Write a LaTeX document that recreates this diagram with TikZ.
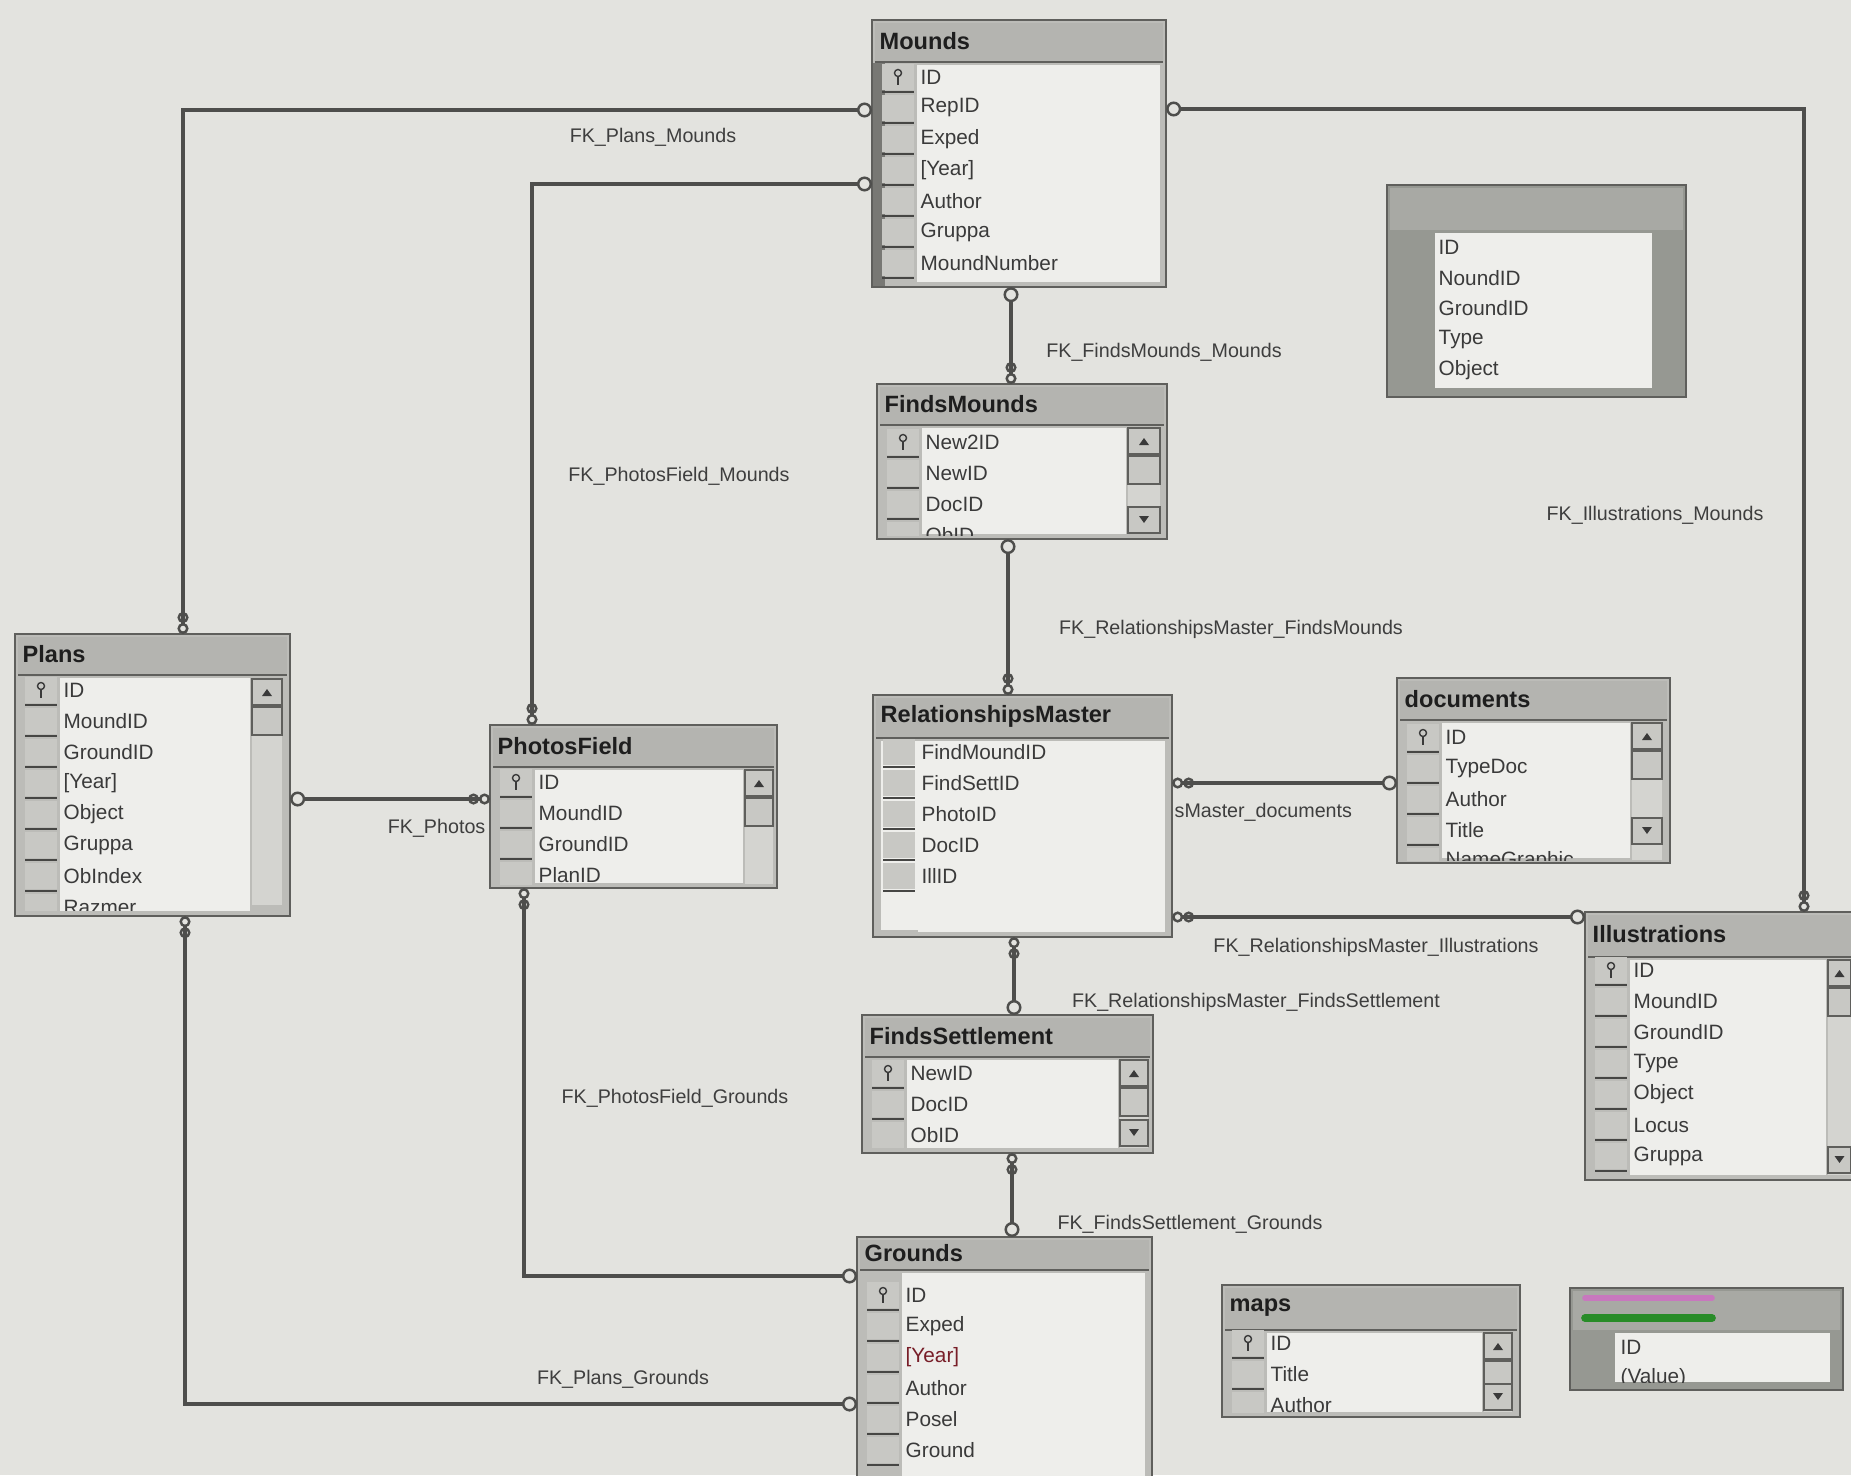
\documentclass[tikz,border=0pt]{standalone}
\usepackage{fontspec}
\setmainfont{Liberation Sans}
\usetikzlibrary{arrows.meta,calc}

\definecolor{bgclr}{RGB}{227,227,223}
\definecolor{frameclr}{RGB}{95,95,92}
\definecolor{bodyclr}{RGB}{188,188,184}
\definecolor{titleclr}{RGB}{180,180,176}
\definecolor{whiteclr}{RGB}{238,238,235}
\definecolor{keycellclr}{RGB}{200,200,196}
\definecolor{keysepclr}{RGB}{70,70,68}
\definecolor{lineclr}{RGB}{78,78,76}
\definecolor{textclr}{RGB}{58,58,58}
\definecolor{titletxt}{RGB}{30,30,30}
\definecolor{labelclr}{RGB}{62,62,62}
\definecolor{scrollclr}{RGB}{212,212,208}
\definecolor{darkstrip}{RGB}{120,120,116}
\definecolor{blurclr}{RGB}{150,152,146}
\definecolor{pinkclr}{RGB}{200,120,190}
\definecolor{greenclr}{RGB}{40,140,40}
\definecolor{darkred}{RGB}{120,30,40}

\tikzset{
  tbl/.style={rectangle, draw=frameclr, line width=0.6pt, fill=bodyclr, inner sep=0pt, outer sep=0pt},
  ttl/.style={inner sep=0pt, font=\bfseries\fontsize{6.7}{8}\selectfont, text=titletxt},
  fld/.style={inner sep=0pt, font=\fontsize{5.9}{7}\selectfont, text=textclr},
  lbl/.style={inner sep=0pt, font=\fontsize{5.6}{7}\selectfont, text=labelclr},
  conn/.style={draw=lineclr, line width=1pt},
  fkpk/.style={conn, {Circle[open,length=1.1mm,width=1.1mm,line width=0.7pt]Circle[open,length=1.1mm,width=1.1mm,line width=0.7pt]}-{Circle[open,length=1.5mm,width=1.5mm,line width=0.7pt]}},
  whitearea/.style={fill=whiteclr},
  titlebar/.style={fill=titleclr},
  keycell/.style={fill=keycellclr},
  keysep/.style={draw=keysepclr, line width=0.5pt},
  scrollbg/.style={fill=scrollclr},
  scrollbtn/.style={draw=frameclr, fill=keycellclr, line width=0.4pt},
  keyic/.style={draw=textclr, line width=0.4pt}
}

% #1 name #2 x0 #3 y0 #4 w #5 h #6 title bottom #7 white right #8 title
\newcommand\erdbox[8]{%
  \node[tbl, minimum width=#4*0.1mm, minimum height=#5*0.1mm, anchor=north west] (#1) at (#2,#3) {};
  \fill[titlebar] (#2+3,#3+3) rectangle (#2+#4-3,#6);
  \draw[frameclr, line width=0.4pt] (#2+3,#6) -- (#2+#4-3,#6);
  \node[ttl, anchor=west] (#1t) at (#2+7,{(#3+#6)/2}) {#8};
  \fill[whitearea] (#2+45,#6+3) rectangle (#7,#3+#5-5);
}

% #1 prefix #2 x0 #3 first row y #4 rows #5 clip bottom #6 white right
\newcommand\erdrows[6]{%
  \begin{scope}
    \clip (#2,#3-15) rectangle (#6,#5);
    \foreach \t [count=\i from 0] in {#4} {
      \fill[keycell] (#2+10,#3+\i*31-13) rectangle (#2+42,#3+\i*31+13);
      \draw[keysep] (#2+10,#3+\i*31+15) -- (#2+42,#3+\i*31+15);
      \node[fld, anchor=west] (#1r\i) at (#2+48,#3+\i*31) {\t};
    }
  \end{scope}
}

% key icon: #1 x0 #2 first row y
\newcommand\erdkey[2]{%
  \draw[keyic] (#1+26,#2-4) circle[radius=0.35mm];
  \draw[keyic] (#1+26,#2) -- (#1+26,#2+8);
}

% scrollbar: #1 xl #2 xr #3 ytop #4 ybottom
\newcommand\erdscroll[4]{%
  \fill[scrollbg] (#1,#3) rectangle (#2,#4);
  \draw[scrollbtn] (#1,#3) rectangle (#2,#3+26);
  \fill[textclr] ({(#1+#2)/2-5},#3+17) -- ({(#1+#2)/2+5},#3+17) -- ({(#1+#2)/2},#3+10) -- cycle;
  \draw[scrollbtn] (#1,#3+28) rectangle (#2,#3+56);
}
% down button: #1 xl #2 xr #3 ybottom
\newcommand\erddown[3]{%
  \draw[scrollbtn] (#1,#3-26) rectangle (#2,#3);
  \fill[textclr] ({(#1+#2)/2-5},#3-17) -- ({(#1+#2)/2+5},#3-17) -- ({(#1+#2)/2},#3-10) -- cycle;
}

\begin{document}
\begin{tikzpicture}[x=0.01cm, y=-0.01cm]
\useasboundingbox (0,0) rectangle (1851,1475);
\fill[bgclr] (0,0) rectangle (1851,1475);

% ---------- tables ----------
% Mounds
\erdbox{mounds}{872}{20}{294}{267}{62}{1160}{Mounds}
\fill[darkstrip] (873,63) rectangle (885,286);
\erdrows{mounds}{872}{77}{ID,RepID,Exped,{[Year]},Author,Gruppa,MoundNumber}{282}{1160}
\erdkey{872}{77}

% unnamed table top right
\node[tbl, fill=blurclr, minimum width=29.9mm, minimum height=21.2mm, anchor=north west] (tblx) at (1387,185) {};
\fill[titleclr!60!blurclr] (1390,188) rectangle (1683,230);
\fill[whitearea] (1435,233) rectangle (1652,388);
\foreach \t [count=\i from 0] in {ID,NoundID,GroundID,Type,Object} {
  \node[fld, anchor=west] (tblxr\i) at (1438,247+\i*30.7) {\t};
}

% Plans
\erdbox{plans}{15}{634}{275}{282}{675}{250}{Plans}
\erdrows{plans}{15}{690}{ID,MoundID,GroundID,{[Year]},Object,Gruppa,ObIndex,Razmer}{910}{250}
\erdkey{15}{690}
\erdscroll{252}{282}{679}{905}

% PhotosField
\erdbox{photos}{490}{725}{287}{163}{767}{743}{PhotosField}
\erdrows{photos}{490}{782}{ID,MoundID,GroundID,PlanID}{884}{743}
\erdkey{490}{782}
\erdscroll{745}{773}{770}{884}

% FindsMounds
\erdbox{fmounds}{877}{384}{290}{155}{425}{1126}{FindsMounds}
\erdrows{fmounds}{877}{442}{New2ID,NewID,DocID,ObID}{535}{1126}
\erdkey{877}{442}
\erdscroll{1128}{1160}{428}{533}
\erddown{1128}{1160}{533}

% RelationshipsMaster
\erdbox{rm}{873}{695}{299}{242}{738}{1165}{RelationshipsMaster}
\fill[whitearea] (881,741) rectangle (1165,930);
\erdrows{rm}{873}{752}{FindMoundID,FindSettID,PhotoID,DocID,IllID}{893}{1165}

% documents
\erdbox{docs}{1397}{678}{273}{185}{720}{1630}{documents}
\erdrows{docs}{1397}{737}{ID,TypeDoc,Author,Title,NameGraphic}{860}{1630}
\erdkey{1397}{737}
\erdscroll{1632}{1662}{723}{860}
\erddown{1632}{1662}{844}

% Illustrations
\erdbox{ill}{1585}{912}{275}{268}{957}{1826}{Illustrations}
\erdrows{ill}{1585}{970}{ID,MoundID,GroundID,Type,Object,Locus,Gruppa}{1175}{1826}
\erdkey{1585}{970}
\erdscroll{1828}{1851}{960}{1175}
\erddown{1828}{1851}{1173}

% FindsSettlement
\erdbox{fsett}{862}{1015}{291}{138}{1057}{1118}{FindsSettlement}
\erdrows{fsett}{862}{1073}{NewID,DocID,ObID}{1148}{1118}
\erdkey{862}{1073}
\erdscroll{1120}{1148}{1060}{1148}
\erddown{1120}{1148}{1146}

% Grounds
\erdbox{grounds}{857}{1237}{295}{245}{1270}{1145}{Grounds}
\erdrows{grounds}{857}{1295}{ID,Exped,{\textcolor{darkred}{[Year]}},Author,Posel,Ground}{1475}{1145}
\erdkey{857}{1295}

% maps
\erdbox{maps}{1222}{1285}{298}{132}{1330}{1482}{maps}
\erdrows{maps}{1222}{1343}{ID,Title,Author}{1412}{1482}
\erdkey{1222}{1343}
\erdscroll{1484}{1512}{1333}{1412}
\erddown{1484}{1512}{1410}

% unnamed table bottom right
\node[tbl, fill=blurclr, minimum width=27.3mm, minimum height=10.2mm, anchor=north west] (tbly) at (1570,1288) {};
\fill[titleclr!60!blurclr] (1573,1291) rectangle (1840,1330);
\draw[pinkclr, line width=1.6pt, line cap=round] (1585,1298) -- (1712,1298);
\draw[greenclr, line width=2.2pt, line cap=round] (1585,1318) -- (1712,1318);
\fill[whitearea] (1615,1333) rectangle (1830,1382);
\begin{scope}
  \clip (1615,1333) rectangle (1830,1382);
  \node[fld, anchor=west] (tblyr0) at (1620,1347) {ID};
  \node[fld, anchor=west] (tblyr1) at (1620,1378) {(Value)};
\end{scope}

% ---------- connectors ----------
\draw[fkpk] ($(plans.north west)+(168,0)$) |- (mounds.west |- 0,110);
\draw[fkpk] ($(photos.north west)+(42,0)$) |- (mounds.west |- 0,184);
\draw[fkpk] ($(ill.north west)+(219,0)$) |- (mounds.east |- 0,109);
\draw[fkpk] (fmounds.north -| 1011,0) -- (mounds.south -| 1011,0);
\draw[fkpk] (rm.north -| 1008,0) -- (fmounds.south -| 1008,0);
\draw[fkpk] (photos.west |- 0,799) -- (plans.east |- 0,799);
\draw[fkpk] (rm.east |- 0,783) -- (docs.west |- 0,783);
\draw[fkpk] (rm.east |- 0,917) -- (ill.west |- 0,917);
\draw[fkpk] (rm.south -| 1014,0) -- (fsett.north -| 1014,0);
\draw[fkpk] (fsett.south -| 1012,0) -- (grounds.north -| 1012,0);
\draw[fkpk] (photos.south -| 524,0) |- (grounds.west |- 0,1276);
\draw[fkpk] (plans.south -| 185,0) |- (grounds.west |- 0,1404);

% ---------- labels ----------
\node[lbl] (l1) at (653,137) {FK\_Plans\_Mounds};
\node[lbl] (l2) at (679,476) {FK\_PhotosField\_Mounds};
\node[lbl] (l3) at (1655,515) {FK\_Illustrations\_Mounds};
\node[lbl] (l4) at (1164,352) {FK\_FindsMounds\_Mounds};
\node[lbl] (l5) at (1231,629) {FK\_RelationshipsMaster\_FindsMounds};
\node[lbl, anchor=east] (l6) at (486,828) {FK\_Photos};
\node[lbl, anchor=west] (l7) at (1174,812) {sMaster\_documents};
\node[lbl] (l8) at (1376,947) {FK\_RelationshipsMaster\_Illustrations};
\node[lbl] (l9) at (1256,1002) {FK\_RelationshipsMaster\_FindsSettlement};
\node[lbl] (l10) at (1190,1224) {FK\_FindsSettlement\_Grounds};
\node[lbl] (l11) at (675,1098) {FK\_PhotosField\_Grounds};
\node[lbl] (l12) at (623,1379) {FK\_Plans\_Grounds};
\end{tikzpicture}
\end{document}
